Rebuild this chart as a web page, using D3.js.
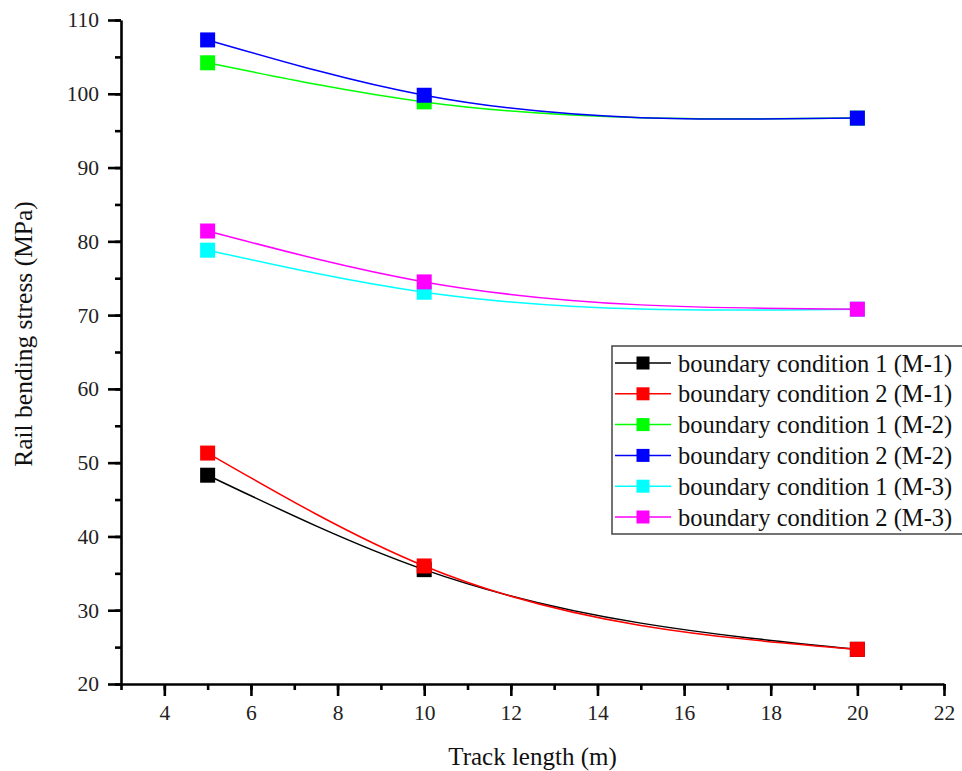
<!DOCTYPE html>
<html>
<head>
<meta charset="utf-8">
<script src="https://cdn.jsdelivr.net/npm/d3@7"></script>
<style>
  html, body { margin: 0; padding: 0; background: #fff; }
  svg { display: block; font-family: "Liberation Serif", "Times New Roman", serif; }
</style>
</head>
<body>
<svg id="chart" width="962" height="771"></svg>
<script>
// Track lengths (m)
const trackLength = [5, 10, 20];

// Rail bending stress (MPa) for each boundary condition / model
const bc1M1 = [48.3, 35.5, 24.7];
const bc2M1 = [51.3, 36.0, 24.7];
const bc1M2 = [104.2, 98.9, 96.7];
const bc2M2 = [107.3, 99.8, 96.7];
const bc1M3 = [78.8, 73.1, 70.8];
const bc2M3 = [81.4, 74.5, 70.8];

const seriesNames = [
  "boundary condition 1 (M-1)",
  "boundary condition 2 (M-1)",
  "boundary condition 1 (M-2)",
  "boundary condition 2 (M-2)",
  "boundary condition 1 (M-3)",
  "boundary condition 2 (M-3)"
];
const seriesValues = [bc1M1, bc2M1, bc1M2, bc2M2, bc1M3, bc2M3];
const seriesColors = ["#000000", "#ff0000", "#00ff00", "#0000ff", "#00ffff", "#ff00ff"];

const xTicks = [4, 6, 8, 10, 12, 14, 16, 18, 20, 22];
const yTicks = [20, 30, 40, 50, 60, 70, 80, 90, 100, 110];

// Natural cubic spline y(x) as a d3 curve factory: points are buffered,
// second derivatives solved, then each segment emitted as an exact Bezier.
function NaturalSplineX(context) { this._context = context; }
NaturalSplineX.prototype = {
  areaStart() { this._line = 0; },
  areaEnd() { this._line = NaN; },
  lineStart() { this._x = []; this._y = []; },
  point(px, py) { this._x.push(+px); this._y.push(+py); },
  lineEnd() {
    const xs = this._x, ys = this._y, n = xs.length, ctx = this._context;
    if (n === 0) return;
    ctx.moveTo(xs[0], ys[0]);
    if (n === 2) { ctx.lineTo(xs[1], ys[1]); }
    else if (n > 2) {
      const h = [], M = new Array(n).fill(0);
      for (let i = 0; i < n - 1; i++) h.push(xs[i + 1] - xs[i]);
      // Tridiagonal system for interior second derivatives
      const a = [], b = [], c = [], r = [];
      for (let i = 1; i < n - 1; i++) {
        a.push(h[i - 1]); b.push(2 * (h[i - 1] + h[i])); c.push(h[i]);
        r.push(6 * ((ys[i + 1] - ys[i]) / h[i] - (ys[i] - ys[i - 1]) / h[i - 1]));
      }
      const m = b.length;
      for (let i = 1; i < m; i++) {
        const w = a[i] / b[i - 1];
        b[i] -= w * c[i - 1]; r[i] -= w * r[i - 1];
      }
      const sol = new Array(m);
      sol[m - 1] = r[m - 1] / b[m - 1];
      for (let i = m - 2; i >= 0; i--) sol[i] = (r[i] - c[i] * sol[i + 1]) / b[i];
      for (let i = 0; i < m; i++) M[i + 1] = sol[i];
      for (let i = 0; i < n - 1; i++) {
        const hi = h[i], d = (ys[i + 1] - ys[i]) / hi;
        const s0 = d - hi * (2 * M[i] + M[i + 1]) / 6;
        const s1 = d + hi * (M[i] + 2 * M[i + 1]) / 6;
        ctx.bezierCurveTo(xs[i] + hi / 3, ys[i] + s0 * hi / 3,
                          xs[i + 1] - hi / 3, ys[i + 1] - s1 * hi / 3,
                          xs[i + 1], ys[i + 1]);
      }
    }
  }
};
const curveNaturalX = context => new NaturalSplineX(context);

const svg = d3.select("#chart");
const plotLeft = 121, plotRight = 944, plotTop = 20, plotBottom = 684;

const x = d3.scaleLinear().domain([3, 22]).range([plotLeft, plotRight]);
const y = d3.scaleLinear().domain([20, 110]).range([plotBottom, plotTop]);

// Axes with major and minor ticks
const axisG = svg.append("g");
const xMinor = d3.range(3, 22.01, 1);
const yMinor = d3.range(20, 110.01, 5);

axisG.append("g")
  .attr("transform", `translate(0,${plotBottom})`)
  .call(d3.axisBottom(x).tickValues(xMinor).tickSize(6).tickFormat(""))
  .call(g => g.select(".domain").remove());
axisG.append("g")
  .attr("transform", `translate(0,${plotBottom})`)
  .call(d3.axisBottom(x).tickValues(xTicks).tickSize(12).tickSizeOuter(0).tickPadding(9).tickFormat(d3.format("d")));
axisG.append("g")
  .attr("transform", `translate(${plotLeft},0)`)
  .call(d3.axisLeft(y).tickValues(yMinor).tickSize(6).tickFormat(""))
  .call(g => g.select(".domain").remove());
axisG.append("g")
  .attr("transform", `translate(${plotLeft},0)`)
  .call(d3.axisLeft(y).tickValues(yTicks).tickSize(13).tickSizeOuter(0).tickPadding(9).tickFormat(d3.format("d")));

axisG.selectAll(".domain, .tick line")
  .attr("stroke", "#000").attr("stroke-width", 2.6);
axisG.selectAll(".tick text")
  .attr("font-family", "Liberation Serif, Times New Roman, serif")
  .attr("font-size", 21.5)
  .attr("fill", "#222");

// Axis titles
svg.append("text")
  .attr("x", (plotLeft + plotRight) / 2).attr("y", 765)
  .attr("text-anchor", "middle")
  .attr("font-size", 25).attr("fill", "#111")
  .text("Track length (m)");
svg.append("text")
  .attr("transform", "translate(32,334) rotate(-90)")
  .attr("text-anchor", "middle")
  .attr("font-size", 25.5).attr("fill", "#111")
  .text("Rail bending stress (MPa)");

// Series lines and markers
const line = d3.line()
  .x((d, i) => x(trackLength[i]))
  .y(d => y(d))
  .curve(curveNaturalX);

const plot = svg.append("g");
seriesValues.forEach((vals, s) => {
  const g = plot.append("g");
  g.append("path")
    .datum(vals)
    .attr("d", line)
    .attr("fill", "none")
    .attr("stroke", seriesColors[s])
    .attr("stroke-width", 1.5);
  g.selectAll("rect")
    .data(vals)
    .join("rect")
    .attr("x", (d, i) => x(trackLength[i]) - 7.5)
    .attr("y", d => y(d) - 7.5)
    .attr("width", 15).attr("height", 15)
    .attr("fill", seriesColors[s]);
});

// Legend
const legend = svg.append("g").attr("transform", "translate(612,346)");
legend.append("rect")
  .attr("x", 0).attr("y", 0).attr("width", 352).attr("height", 188)
  .attr("fill", "#fff").attr("stroke", "#444").attr("stroke-width", 1.5);
seriesNames.forEach((name, s) => {
  const cy = 17 + s * 30.8;
  const row = legend.append("g").attr("transform", `translate(0,${cy})`);
  row.append("line").attr("x1", 3).attr("x2", 59).attr("y1", 0).attr("y2", 0)
    .attr("stroke", seriesColors[s]).attr("stroke-width", 1.5);
  row.append("rect").attr("x", 24.5).attr("y", -6.5).attr("width", 13).attr("height", 13)
    .attr("fill", seriesColors[s]);
  row.append("text").attr("x", 66).attr("y", 0).attr("dy", "0.35em")
    .attr("font-size", 24.5).attr("fill", "#111")
    .text(name);
});
</script>
</body>
</html>
